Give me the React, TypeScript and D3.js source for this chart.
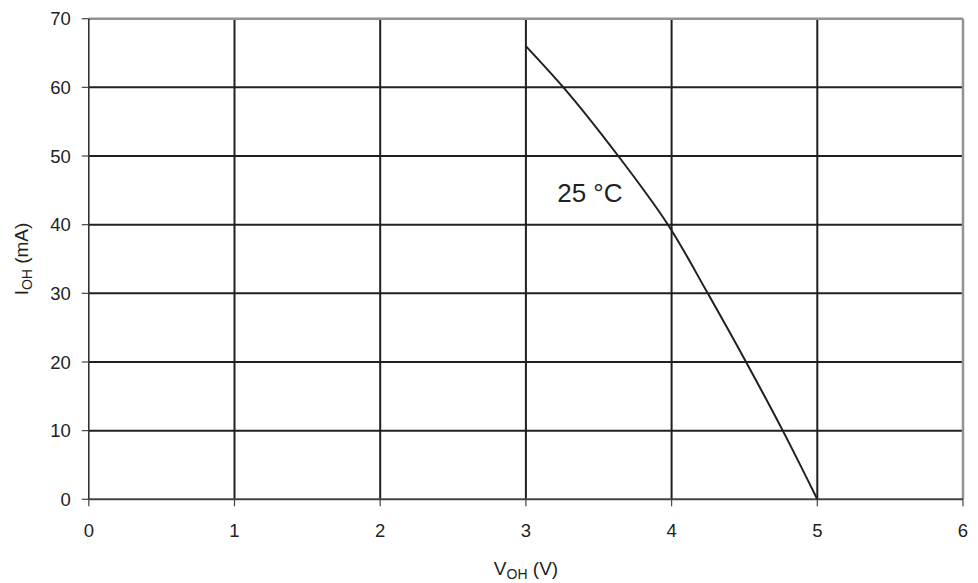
import React from "react";
import * as d3 from "d3";

const voh = [3.0, 3.257, 3.634, 3.975, 4.248, 4.511, 4.763, 5.0];
const ioh = [66, 60, 50, 40, 30, 20, 10, 0];
const xTicks = [0, 1, 2, 3, 4, 5, 6];
const yTicks = [0, 10, 20, 30, 40, 50, 60, 70];
const curveLabel = "25 °C";

export default function App() {
  const W = 978, H = 583;
  const x = d3.scaleLinear().domain([0, 6]).range([88.8, 963]);
  const y = d3.scaleLinear().domain([0, 70]).range([499.3, 18.7]);
  const pts: [number, number][] = voh.map((v, i) => [v, ioh[i]]);
  const line = d3
    .line<[number, number]>()
    .x((d) => x(d[0]))
    .y((d) => y(d[1]))
    .curve(d3.curveMonotoneY);
  const font = "'Liberation Sans', Arial, Helvetica, sans-serif";
  const dark = "#231f20";
  return (
    <svg width={W} height={H} style={{ position: "absolute", left: 0, top: 0, background: "#fff" }} fontFamily={font}>
      {/* horizontal grid */}
      {yTicks.slice(1, -1).map((t) => (
        <line key={"h" + t} x1={x(0)} x2={x(6)} y1={y(t)} y2={y(t)} stroke={dark} strokeWidth={2} />
      ))}
      {/* vertical grid */}
      {xTicks.slice(1, -1).map((t) => (
        <line key={"v" + t} x1={x(t)} x2={x(t)} y1={y(0)} y2={y(70)} stroke={dark} strokeWidth={2} />
      ))}
      {/* top and right border */}
      <line x1={x(0)} x2={x(6)} y1={y(70)} y2={y(70)} stroke="#929292" strokeWidth={2.5} />
      <line x1={x(6)} x2={x(6)} y1={y(0)} y2={y(70)} stroke="#929292" strokeWidth={2.5} />
      {/* axes */}
      <line x1={x(0)} x2={x(6)} y1={y(0)} y2={y(0)} stroke="#444" strokeWidth={2} />
      <line x1={x(0)} x2={x(0)} y1={y(0)} y2={y(70)} stroke="#333" strokeWidth={1.6} />
      {yTicks.map((t) => (
        <g key={"yt" + t}>
          <line x1={x(0) - 7} x2={x(0)} y1={y(t)} y2={y(t)} stroke="#444" strokeWidth={1.2} />
          <text x={x(0) - 18} y={y(t)} dy="0.36em" textAnchor="end" fontSize={18.5} fill={dark}>
            {t}
          </text>
        </g>
      ))}
      {xTicks.map((t) => (
        <g key={"xt" + t}>
          <line x1={x(t)} x2={x(t)} y1={y(0)} y2={y(0) + 7} stroke="#444" strokeWidth={1.2} />
          <text x={x(t)} y={537} textAnchor="middle" fontSize={18.5} fill={dark}>
            {t}
          </text>
        </g>
      ))}
      {/* curve */}
      <path d={line(pts) || ""} fill="none" stroke={dark} strokeWidth={2} />
      <text x={x(3.215)} y={y(43.3)} fontSize={26} fill={dark}>
        {curveLabel}
      </text>
      {/* axis titles */}
      <text x={526} y={575} textAnchor="middle" fontSize={19} fill={dark}>
        V<tspan fontSize={14} dy={4}>OH</tspan>
        <tspan dy={-4}> (V)</tspan>
      </text>
      <text transform={`translate(28,259) rotate(-90)`} textAnchor="middle" fontSize={19} fill={dark}>
        I<tspan fontSize={14} dy={4}>OH</tspan>
        <tspan dy={-4}> (mA)</tspan>
      </text>
    </svg>
  );
}
